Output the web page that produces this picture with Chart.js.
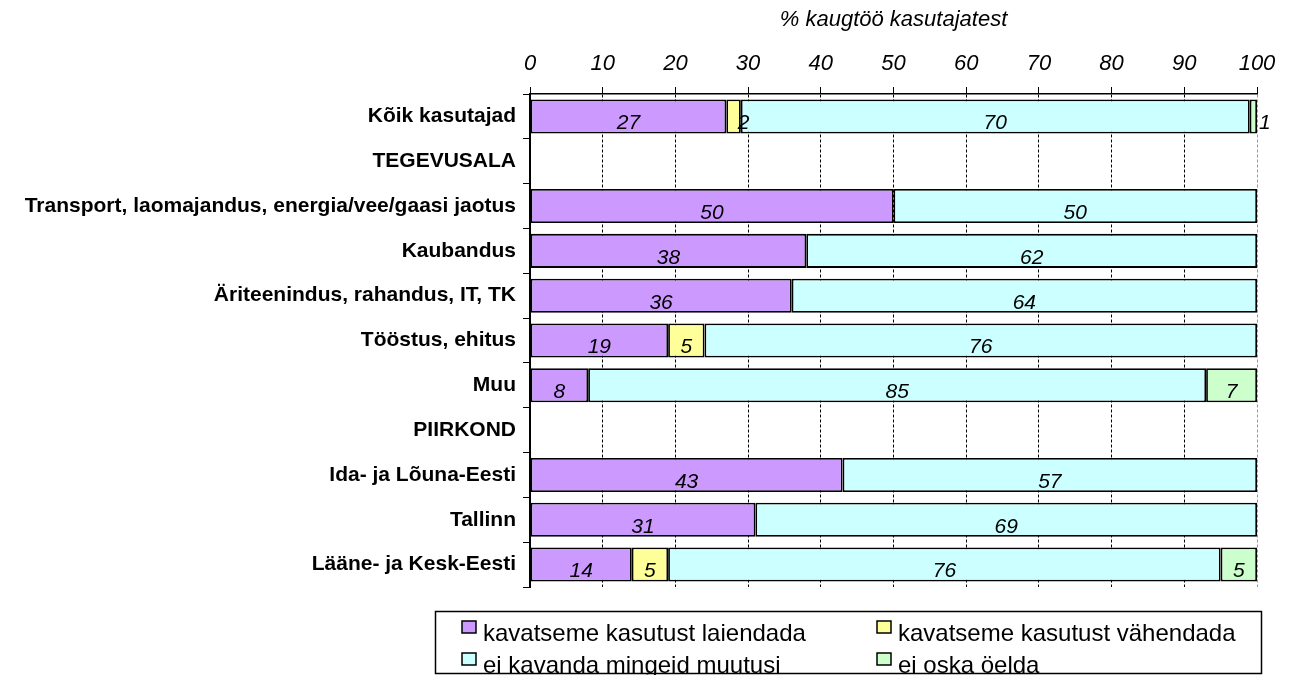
<!DOCTYPE html>
<html>
<head>
<meta charset="utf-8">
<script src="https://cdn.jsdelivr.net/npm/chart.js@4/dist/chart.umd.min.js"></script>
<style>
  html, body { margin: 0; padding: 0; background: #fff; }
  #wrap { position: relative; width: 1292px; height: 675px; }
</style>
</head>
<body>
<div id="wrap"><canvas id="barChart" width="1292" height="675"></canvas></div>
<script>
const categories = [
  'Kõik kasutajad', 'TEGEVUSALA',
  'Transport, laomajandus, energia/vee/gaasi jaotus',
  'Kaubandus', 'Äriteenindus, rahandus, IT, TK', 'Tööstus, ehitus', 'Muu',
  'PIIRKOND', 'Ida- ja Lõuna-Eesti', 'Tallinn', 'Lääne- ja Kesk-Eesti',
];
const seriesNames = [
  'kavatseme kasutust laiendada',
  'kavatseme kasutust vähendada',
  'ei kavanda mingeid muutusi',
  'ei oska öelda',
];
// null = no bar segment for that row
const laiendada = [27, null, 50, 38, 36, 19, 8, null, 43, 31, 14];
const vahendada = [2, null, null, null, null, 5, null, null, null, null, 5];
const muutusi = [70, null, 50, 62, 64, 76, 85, null, 57, 69, 76];
const eiOska = [1, null, null, null, null, null, 7, null, null, null, 5];
const xTicks = [0, 10, 20, 30, 40, 50, 60, 70, 80, 90, 100];

const colors = ['#CC99FF', '#FFFF99', '#CCFFFF', '#CCFFCC'];
const FONT = 'Arial, "Liberation Sans", sans-serif';

const valueLabels = {
  id: 'valueLabels',
  afterDatasetsDraw(chart) {
    const ctx = chart.ctx;
    const right = chart.chartArea.right;
    ctx.save();
    ctx.font = 'italic 21px ' + FONT;
    ctx.fillStyle = '#000';
    ctx.textBaseline = 'middle';
    chart.data.datasets.forEach((ds, i) => {
      chart.getDatasetMeta(i).data.forEach((bar, j) => {
        const v = ds.data[j];
        if (v == null) return;
        const w = Math.abs(bar.x - bar.base);
        if (w < 16) {
          // too narrow: put the number at the segment end
          ctx.textAlign = 'left';
          const x = bar.x >= right - 1 ? bar.x + 2 : bar.x - 3;
          ctx.fillText(String(v), x, bar.y + 7);
        } else {
          ctx.textAlign = 'center';
          ctx.fillText(String(v), (bar.x + bar.base) / 2, bar.y + 7);
        }
      });
    });
    ctx.restore();
  },
};

const boxLegend = {
  id: 'boxLegend',
  afterDraw(chart) {
    const ctx = chart.ctx;
    const cols = [462, 877];
    const rows = [621, 653];
    ctx.save();
    ctx.font = '24px ' + FONT;
    ctx.textAlign = 'left';
    ctx.textBaseline = 'alphabetic';
    seriesNames.forEach((name, i) => {
      const x = cols[i % 2];
      const y = rows[Math.floor(i / 2)];
      ctx.fillStyle = colors[i];
      ctx.fillRect(x, y, 14, 12);
      ctx.strokeStyle = '#000';
      ctx.lineWidth = 1.5;
      ctx.strokeRect(x, y, 14, 12);
      ctx.fillStyle = '#000';
      ctx.fillText(name, x + 21, y + 20);
    });
    ctx.lineWidth = 1.5;
    ctx.strokeStyle = '#000';
    ctx.strokeRect(435.5, 611.5, 826, 62);
    ctx.restore();
  },
};

new Chart(document.getElementById('barChart').getContext('2d'), {
  type: 'bar',
  data: {
    labels: categories,
    datasets: [laiendada, vahendada, muutusi, eiOska].map((d, i) => ({
      label: seriesNames[i],
      data: d,
      backgroundColor: colors[i],
      borderColor: '#000',
      borderWidth: 1.8,
      borderSkipped: false,
      categoryPercentage: 1,
      barPercentage: 0.76,
    })),
  },
  options: {
    indexAxis: 'y',
    responsive: false,
    animation: false,
    layout: {
      padding: { left: 0, right: 35, top: 7, bottom: 88 },
    },
    plugins: {
      legend: { display: false },
      tooltip: { enabled: false },
    },
    scales: {
      x: {
        position: 'top',
        stacked: true,
        min: 0,
        max: 100,
        afterBuildTicks: (scale) => {
          scale.ticks = xTicks.map((v) => ({ value: v }));
        },
        afterFit: (scale) => {
          scale.height = 87;
        },
        title: {
          display: true,
          text: '% kaugtöö kasutajatest',
          color: '#000',
          font: { family: FONT, size: 22, style: 'italic' },
          padding: { top: 0, bottom: 6 },
        },
        ticks: {
          color: '#000',
          padding: 10,
          font: { family: FONT, size: 22, style: 'italic' },
        },
        grid: {
          color: (c) => (c.tick && c.tick.value === 100 ? '#999' : '#000'),
          lineWidth: 1,
          tickLength: 7,
          tickColor: '#000',
        },
        border: {
          display: true,
          color: '#000',
          width: 1.5,
          dash: [3, 2],
        },
      },
      y: {
        stacked: true,
        afterFit: (scale) => {
          scale.width = 530;
        },
        ticks: {
          color: '#000',
          padding: 7,
          font: { family: FONT, size: 21, weight: 'bold' },
        },
        grid: {
          offset: true,
          drawOnChartArea: false,
          tickLength: 7,
          tickColor: '#000',
        },
        border: {
          display: true,
          color: '#000',
          width: 2,
        },
      },
    },
  },
  plugins: [valueLabels, boxLegend],
});
</script>
</body>
</html>
